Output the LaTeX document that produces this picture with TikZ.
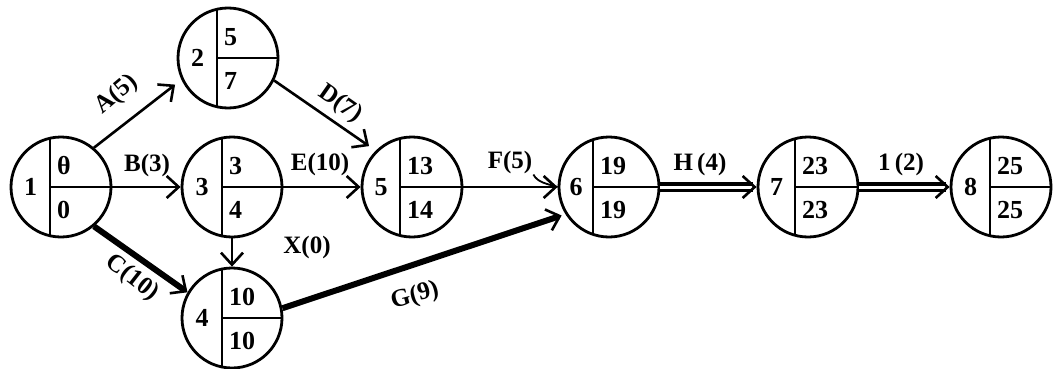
\documentclass[tikz,border=0pt]{standalone}
\usepackage{fontspec}
\setmainfont{Liberation Serif}
\usetikzlibrary{arrows.meta,calc}
\tikzset{
  ev/.style={circle, draw, line width=2.8pt, minimum size=100pt, inner sep=0pt},
  val/.style={font=\fontsize{26}{30}\selectfont\bfseries, inner sep=0pt},
  lab/.style={font=\fontsize{25}{30}\selectfont\bfseries, inner sep=1pt},
  myTip/.tip={Straight Barb[length=12pt,width=22pt,line width=2.6pt]},
  arr/.style={line width=2.6pt, -myTip},
  crit/.style={line width=6pt, -myTip},
  dbl/.style={line width=3.3pt, double distance=3pt, -myTip},
  divl/.style={line width=2.8pt},
}
\newcommand\evnode[7]{%
  \node[ev] (#1) at (#2,#3) {};
  \draw[divl] ($(#1.center)+({#4},{-sqrt(2500-(#4)*(#4))})$) -- ($(#1.center)+({#4},{sqrt(2500-(#4)*(#4))})$);
  \draw[divl] ($(#1.center)+({#4},0)$) -- (#1.east);
  \node[val] (#1n) at ($(#1.center)+({(#4-50)/2},0)$) {#5};
  \node[val, anchor=west] (#1t) at ($(#1.center)+({#4+7},-21)$) {#6};
  \node[val, anchor=west] (#1b) at ($(#1.center)+({#4+7},23)$) {#7};
}
\begin{document}
\begin{tikzpicture}[x=1pt, y=-1pt]
\useasboundingbox[fill=white] (0,0) rectangle (1059,369);
\evnode{n1}{61}{187}{-11}{1}{θ}{0}
\evnode{n2}{228}{58}{-11}{2}{5}{7}
\evnode{n3}{232}{187}{-10}{3}{3}{4}
\evnode{n4}{232}{318}{-10}{4}{10}{10}
\evnode{n5}{412}{187}{-12}{5}{13}{14}
\evnode{n6}{609}{187}{-16}{6}{19}{19}
\evnode{n7}{808}{187}{-13}{7}{23}{23}
\evnode{n8}{1001}{187}{-11}{8}{25}{25}

\draw[arr, shorten >=8pt] (n1.50) -- (n2.205);
\draw[arr] (n1.east) -- (n3.west);
\draw[crit] (n1.-50) -- (n4.150);
\draw[arr] (n3.south) -- (n4.north);
\draw[arr, shorten >=8pt] (n2.-26) -- (n5.135);
\draw[arr] (n3.east) -- (n5.west);
\draw[arr] (n5.east) -- (n6.west);
\draw[crit, shorten >=4pt] (n4.11) -- (n6.212);
\draw[dbl] (n6.east) -- (n7.west);
\draw[dbl] (n7.east) -- (n8.west);

\node[lab, rotate=40] (lA) at (117,95) {A(5)};
\node[lab] (lB) at (147,165) {B(3)};
\node[lab, rotate=-38] (lC) at (132,278) {C(10)};
\node[lab] (lX) at (307,247) {X(0)};
\node[lab, rotate=-35] (lD) at (340,104) {D(7)};
\node[lab] (lE) at (320,164) {E(10)};
\node[lab] (lF) at (510,162) {F(5)};
\node[lab, rotate=15] (lG) at (415,296) {G(9)};
\node[lab] (lH) at (700,164) {H\,(4)};
\node[lab] (lI) at (901,164) {1\,(2)};
\draw[line width=1.8pt] (lF.south east) .. controls +(4,8) and +(-10,-3) .. (n6.west);
\end{tikzpicture}
\end{document}
